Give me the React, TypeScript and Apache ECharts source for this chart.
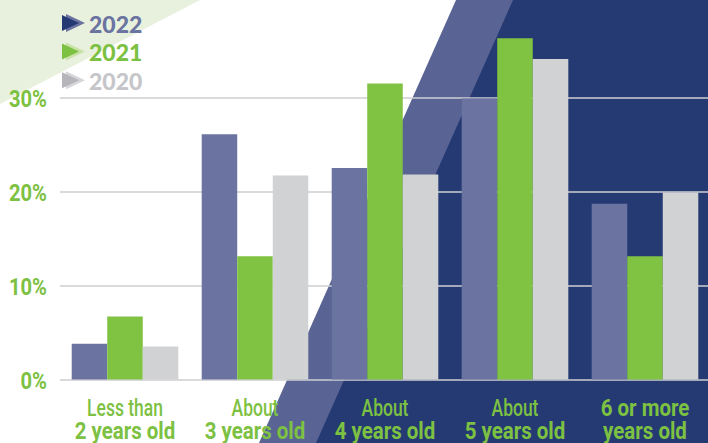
import React, { useEffect, useRef } from "react";
import * as echarts from "echarts";

const categories = [
  "Less than\n2 years old",
  "About\n3 years old",
  "About\n4 years old",
  "About\n5 years old",
  "6 or more\nyears old",
];
const years = ["2022", "2021", "2020"];
const values2022 = [3.8, 26.1, 22.5, 29.9, 18.7];
const values2021 = [6.7, 13.1, 31.5, 36.3, 13.1];
const values2020 = [3.5, 21.7, 21.8, 34.1, 19.9];
const yTicks = [0, 10, 20, 30];

const barColors = ["#6b74a0", "#80c242", "#d1d2d4"];
const legendText = ["#6b73a0", "#7dc142", "#c6c6ca"];
const iconBack = ["#6b73a0", "#c8e2a8", "#d6d6d9"];
const iconFront = ["#253a73", "#7dc142", "#b5b5ba"];
const GREEN = "#7dc142";
const FONT = "Roboto, 'Noto Sans', sans-serif";

export default function App() {
  const ref = useRef<HTMLDivElement>(null);
  useEffect(() => {
    document.body.style.margin = "0";
    const chart = echarts.init(ref.current!, null, { renderer: "svg" });
    const seriesData = [values2022, values2021, values2020];

    const baseGraphics: any[] = [
      {
        type: "polygon",
        z: -10,
        silent: true,
        shape: { points: [[0, 0], [200, 0], [0, 104]] },
        style: { fill: "#e8f1de" },
      },
      {
        type: "polygon",
        z: -9,
        silent: true,
        shape: { points: [[456, 0], [708, 0], [708, 443], [259, 443]] },
        style: { fill: "#5a6494" },
      },
      {
        type: "polygon",
        z: -8,
        silent: true,
        shape: { points: [[513, 0], [708, 0], [708, 443], [316, 443]] },
        style: { fill: "#253a73" },
      },
    ];
    years.forEach((y, i) => {
      const cy = 23 + i * 28.6;
      baseGraphics.push({
        type: "polygon",
        z: 50,
        shape: { points: [[66, cy - 9], [85, cy], [66, cy + 9]] },
        style: { fill: iconBack[i] },
      });
      baseGraphics.push({
        type: "polygon",
        z: 51,
        shape: { points: [[62, cy - 8], [79, cy], [62, cy + 8]] },
        style: { fill: iconFront[i] },
      });
      baseGraphics.push({
        type: "text",
        z: 52,
        x: 89,
        y: cy + 0.5,
        style: {
          text: y,
          fill: legendText[i],
          fontFamily: "Lato, 'Open Sans', sans-serif",
          fontWeight: 900,
          fontSize: 23,
          verticalAlign: "middle",
          align: "left",
        },
      });
    });

    chart.setOption({
      animation: false,
      backgroundColor: "#ffffff",
      graphic: baseGraphics,
      grid: { left: 60, right: -2, top: 97.5, bottom: 63.5, containLabel: false, outerBoundsMode: "none" },
      xAxis: {
        type: "category",
        data: categories,
        axisLine: { show: false },
        axisTick: { show: false },
        axisLabel: { show: false },
      },
      yAxis: {
        type: "value",
        min: yTicks[0],
        max: yTicks[yTicks.length - 1],
        interval: 10,
        axisLine: { show: false },
        axisTick: { show: false },
        axisLabel: { show: false },
        splitLine: { show: true, lineStyle: { color: "rgba(205,205,210,0.75)", width: 2 } },
      },
      series: years.map((y, i) => ({
        name: y,
        type: "bar",
        data: seriesData[i],
        clip: false,
        barGap: "0%",
        barCategoryGap: "18%",
        itemStyle: { color: barColors[i] },
      })),
    });

    // Axis labels drawn as condensed text, placed via the axis scales
    const labelGraphics: any[] = [];
    const y0 = chart.convertToPixel({ yAxisIndex: 0 }, 0) as number;
    const gridLeft = chart.convertToPixel({ xAxisIndex: 0 }, 0) as number - 65;
    yTicks.forEach((t) => {
      const py = chart.convertToPixel({ yAxisIndex: 0 }, t) as number;
      labelGraphics.push({
        type: "text",
        z: 60,
        x: gridLeft - 13,
        y: py + 0.5,
        scaleX: 0.84,
        style: {
          text: `${t}%`,
          fill: GREEN,
          fontFamily: FONT,
          fontWeight: "bold",
          fontSize: 24,
          align: "right",
          verticalAlign: "middle",
        },
      });
    });
    categories.forEach((c, i) => {
      const cx = chart.convertToPixel({ xAxisIndex: 0 }, i) as number;
      const [l1, l2] = c.split("\n");
      const bold1 = /^\d/.test(l1);
      labelGraphics.push({
        type: "text",
        z: 60,
        x: cx,
        y: y0 + 28.5,
        scaleX: bold1 ? 0.89 : 0.76,
        style: {
          text: l1,
          fill: GREEN,
          fontFamily: FONT,
          fontWeight: bold1 ? "bold" : 500,
          fontSize: 23,
          align: "center",
          verticalAlign: "middle",
        },
      });
      labelGraphics.push({
        type: "text",
        z: 60,
        x: cx,
        y: y0 + 51.5,
        scaleX: 0.89,
        style: {
          text: l2,
          fill: GREEN,
          fontFamily: FONT,
          fontWeight: "bold",
          fontSize: 23,
          align: "center",
          verticalAlign: "middle",
        },
      });
    });
    chart.setOption({ graphic: [...baseGraphics, ...labelGraphics] });

    return () => chart.dispose();
  }, []);
  return <div ref={ref} style={{ width: 708, height: 443 }} />;
}
